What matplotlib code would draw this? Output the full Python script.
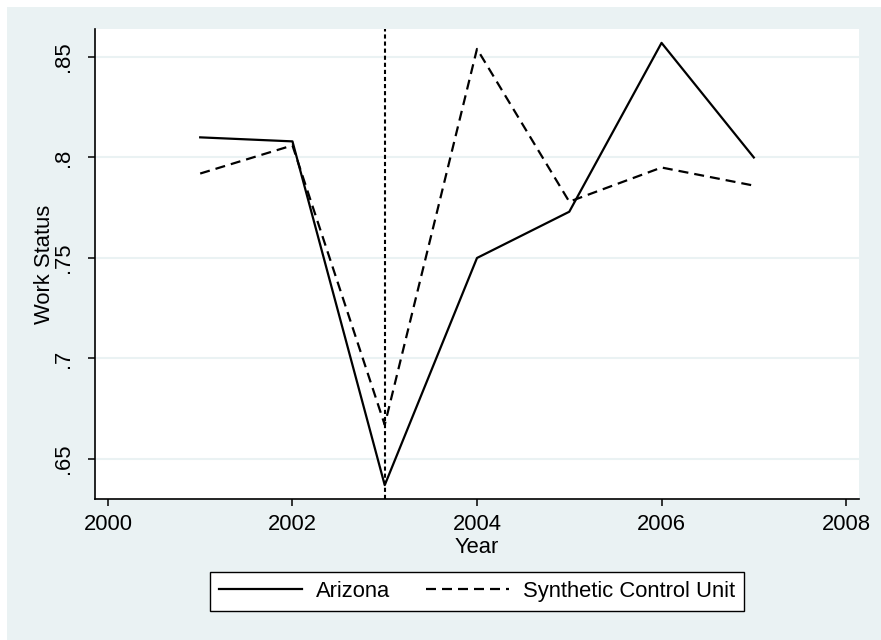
import matplotlib.pyplot as plt
from matplotlib.patches import Rectangle

plt.rcParams['font.family'] = ['Liberation Sans', 'DejaVu Sans']

years = [2001, 2002, 2003, 2004, 2005, 2006, 2007]
arizona = [0.810, 0.808, 0.637, 0.750, 0.773, 0.857, 0.800]
synthetic = [0.792, 0.806, 0.667, 0.854, 0.778, 0.795, 0.786]
treat_year = 2003

x_ticks = [2000, 2002, 2004, 2006, 2008]
y_ticks = [0.65, 0.70, 0.75, 0.80, 0.85]
y_tick_labels = ['.65', '.7', '.75', '.8', '.85']

bg = '#eaf2f3'
fs = 15.8

fig = plt.figure(figsize=(8.81, 6.40), dpi=100, facecolor='white')
# graph region, inset slightly from top and left
fig.patches.append(Rectangle((7 / 881, 0), 1 - 7 / 881, 1 - 7 / 640,
                             transform=fig.transFigure, facecolor=bg,
                             edgecolor='none', zorder=0))

ax = fig.add_axes([95 / 881, 141 / 640, 764 / 881, 470 / 640])
ax.set_zorder(2)
ax.set_facecolor('white')

ax.plot(years, arizona, color='black', lw=1.6, label='Arizona')
ax.plot(years, synthetic, color='black', lw=1.6, linestyle=(0, (4.5, 2.7)),
        label='Synthetic Control Unit')
ax.axvline(treat_year, color='black', lw=1.5, linestyle=(0, (2, 1.4)))

ax.set_xlim(1999.86, 2008.14)
ax.set_ylim(0.6301, 0.8639)
ax.set_xticks(x_ticks)
ax.set_yticks(y_ticks)
ax.set_yticklabels(y_tick_labels, rotation=90, va='center')
ax.grid(axis='y', color=bg, lw=1.5)
ax.set_axisbelow(True)

for side in ['top', 'right']:
    ax.spines[side].set_visible(False)
for side in ['left', 'bottom']:
    ax.spines[side].set_linewidth(1.2)

ax.tick_params(axis='both', direction='out', length=5, width=1.1,
               labelsize=fs, colors='black')
ax.tick_params(axis='x', pad=6)
ax.tick_params(axis='y', pad=10)

ax.set_xlabel('Year', fontsize=fs, labelpad=1)
ax.set_ylabel('Work Status', fontsize=fs, labelpad=-1.5)

leg = fig.legend(loc='center', bbox_to_anchor=(477 / 881, 0.0758), ncol=2,
                 fontsize=fs, frameon=True, fancybox=False, edgecolor='black',
                 handlelength=3.8, handletextpad=0.65, columnspacing=1.6,
                 borderpad=0.4)
leg.set_zorder(3)
leg.get_frame().set_linewidth(1.0)
leg.get_frame().set_facecolor('white')
leg.get_frame().set_alpha(1)

fig.savefig('out.png', dpi=100, facecolor='white')
